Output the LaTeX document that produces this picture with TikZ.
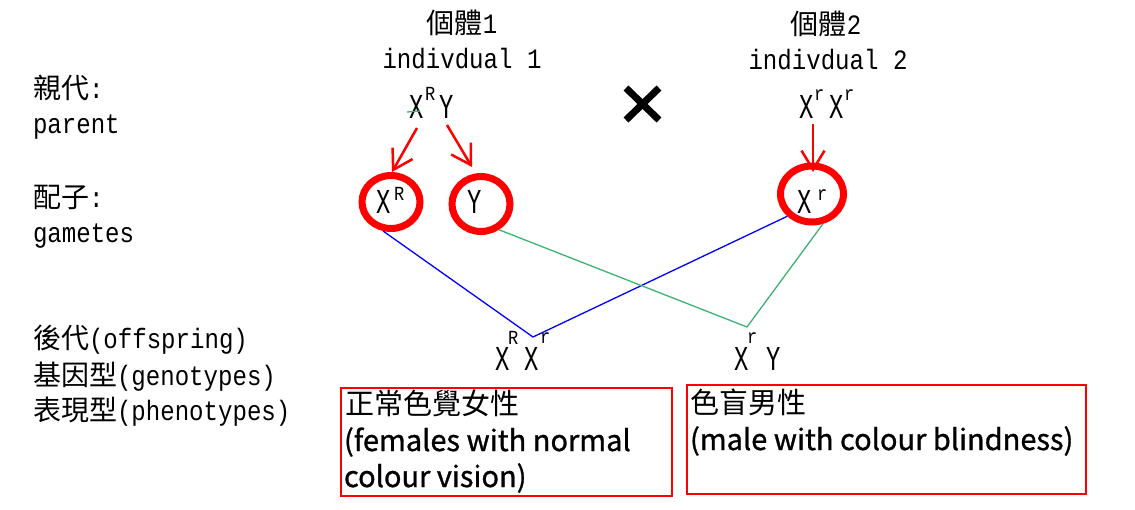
\documentclass[tikz,border=0pt]{standalone}
\usepackage{fontspec}
\usetikzlibrary{arrows.meta,shapes.geometric}
\newfontfamily\cjk{Noto Sans CJK TC}
\newfontfamily\cjkb[FakeBold=1.0]{Noto Sans CJK TC}
\newfontfamily\monof[FakeStretch=0.86]{Liberation Mono}
\newfontfamily\genf[FakeStretch=0.68]{Liberation Mono}
\newfontfamily\supf[FakeStretch=0.85]{Liberation Mono}
\newcommand\fsz[1]{\fontsize{#1}{#1}\selectfont}
\definecolor{lgreen}{RGB}{60,179,113}
\tikzset{
  lab/.style={anchor=base west, inner sep=0pt, outer sep=0pt, font=\monof\fsz{28}},
  hdr/.style={anchor=base, inner sep=0pt, outer sep=0pt, font=\monof\fsz{28}},
  genx/.style={anchor=base west, inner sep=0pt, outer sep=0pt, font=\genf\fsz{35}},
  gsup/.style={anchor=base west, inner sep=0pt, outer sep=0pt, font=\supf\fsz{20}},
  gamring/.style={ellipse, draw=red, line width=7pt, inner sep=0pt},
  redarr/.style={draw=red, line width=2.5pt, -{Straight Barb[length=19pt,width=23pt]}},
  blueline/.style={draw=blue, line width=1.3pt},
  greenline/.style={draw=lgreen, line width=1.3pt},
  redbox/.style={rectangle, draw=red, line width=2.5pt, inner sep=0pt},
  boxcjk/.style={anchor=base west, inner sep=0pt, outer sep=0pt, font=\cjk\fsz{29}},
  boxtxt/.style={anchor=base west, inner sep=0pt, outer sep=0pt, font=\cjkb\fsz{29}}
}
\begin{document}
\begin{tikzpicture}[x=1pt,y=-1pt]
\useasboundingbox (0,0) rectangle (1135,509);
% left labels
\node[lab] (l1) at (33,98) {{\cjk 親代}:};
\node[lab] (l2) at (33,133) {parent};
\node[lab] (l3) at (33,207) {{\cjk 配子}:};
\node[lab] (l4) at (33,242) {gametes};
\node[lab] (l5) at (33,348) {{\cjk 後代}(offspring)};
\node[lab] (l6) at (33,385) {{\cjk 基因型}(genotypes)};
\node[lab] (l7) at (33,420) {{\cjk 表現型}(phenotypes)};
% headers
\node[hdr] (h1) at (462,33) {{\cjk 個體}1};
\node[hdr] (h1b) at (462,68) {indivdual 1};
\node[hdr] (h2) at (826,34) {{\cjk 個體}2};
\node[hdr] (h2b) at (828,69) {indivdual 2};
% parent genotypes
\node[genx] (p1x) at (409,118) {X};
\node[gsup] (p1r) at (425,100) {R};
\node[genx] (p1y) at (439,118) {Y};
\node[genx] (p2x) at (799,118) {X};
\node[gsup] (p2r) at (814,100) {r};
\node[genx] (p2x2) at (829,118) {X};
\node[gsup] (p2r2) at (844,100) {r};
% cross sign
\draw[line width=7pt] (626,88) -- (659,120) (659,88) -- (626,120);
% small green stroke
\draw[greenline] (407,112) -- (420,111);
% gametes
\node[gamring, minimum width=58pt, minimum height=53pt] (g1) at (391,202) {};
\node[gamring, minimum width=58pt, minimum height=55pt] (g2) at (481,204) {};
\node[gamring, minimum width=63pt, minimum height=56pt] (g3) at (812,194) {};
\node[genx] (g1x) at (376,213) {X};
\node[gsup] (g1r) at (394,200) {R};
\node[genx] (g2y) at (467,213) {Y};
\node[genx] (g3x) at (797,213) {X};
\node[gsup] (g3r) at (817,200) {r};
% arrows
\coordinate (a1) at (417,128);
\coordinate (a2) at (447,125);
\coordinate (a3) at (813,124);
\coordinate (t1) at (392,172);
\coordinate (t2) at (472,167);
\coordinate (t3) at (813,172);
\draw[redarr] (a1) -- (t1);
\draw[redarr] (a2) -- (t2);
\draw[redarr] (a3) -- (t3);
% offspring
\node[genx] (o1x) at (495,370) {X};
\node[gsup] (o1r) at (508,344) {R};
\node[genx] (o1x2) at (524,370) {X};
\node[gsup] (o1r2) at (540,343) {r};
\node[genx] (o2x) at (734,370) {X};
\node[gsup] (o2r) at (747,343) {r};
\node[genx] (o2y) at (766,370) {Y};
% connecting lines
\coordinate (v1) at (533,337);
\coordinate (v2) at (747,327);
\draw[blueline] (g1.255) -- (v1) -- (g3.222);
\draw[greenline] (g2.305) -- (v2) -- (g3.290);
% boxes
\node[redbox, minimum width=331pt, minimum height=108pt] (b1) at (506.5,442) {};
\node[redbox, minimum width=399pt, minimum height=109pt] (b2) at (886.5,439.5) {};
\node[boxcjk] (b1a) at (345,414) {正常色覺女性};
\node[boxtxt] (b1b) at (344,451) {(females with normal};
\node[boxtxt] (b1c) at (344,487) {colour vision)};
\node[boxcjk] (b2a) at (690,413) {色盲男性};
\node[boxtxt] (b2b) at (690,450) {(male with colour blindness)};
\end{tikzpicture}
\end{document}
